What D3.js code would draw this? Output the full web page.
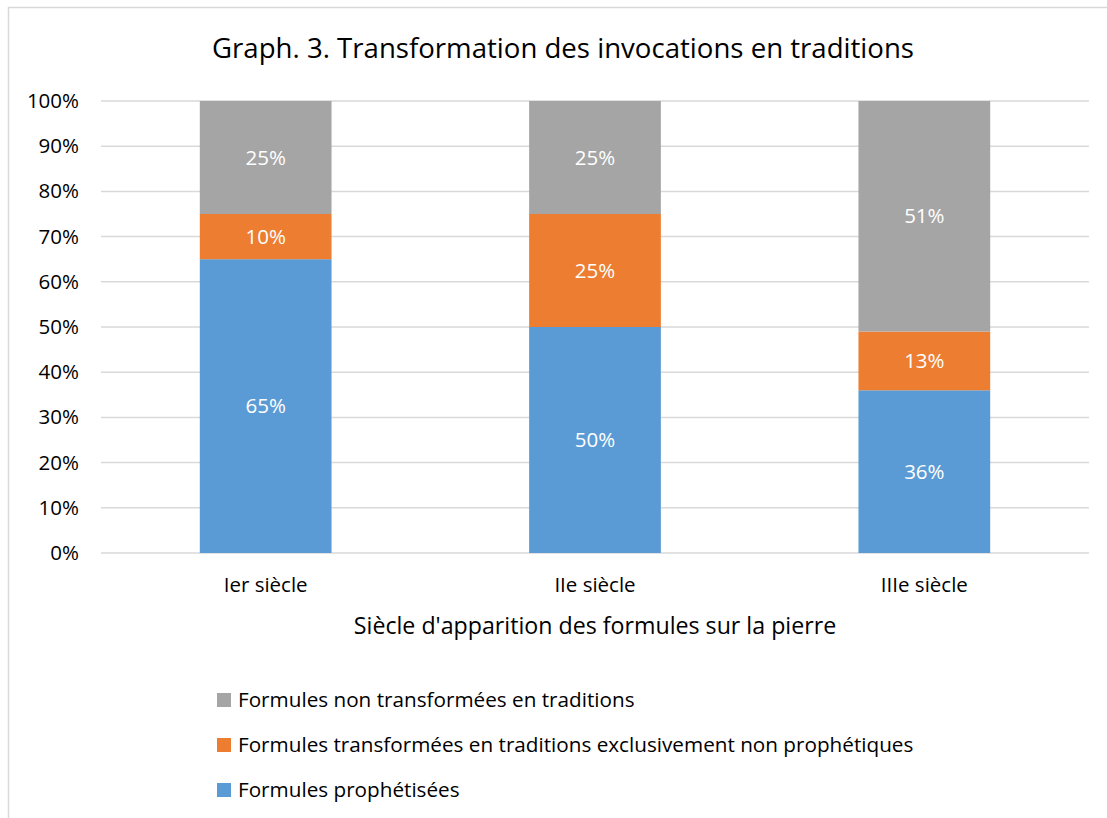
<!DOCTYPE html>
<html><head><meta charset="utf-8">
<script src="https://cdn.jsdelivr.net/npm/d3@7"></script>
<style>body{margin:0;background:#fff;} text{font-family:"Open Sans",sans-serif;}</style>
</head><body>
<svg id="c" width="1107" height="818"></svg>
<script>
const categories = ["Ier siècle", "IIe siècle", "IIIe siècle"];
const seriesNames = ["Formules prophétisées", "Formules transformées en traditions exclusivement non prophétiques", "Formules non transformées en traditions"];
const prophetisees = [65, 50, 36];
const nonProphetiques = [10, 25, 13];
const nonTransformees = [25, 25, 51];
const yTicks = [0,10,20,30,40,50,60,70,80,90,100];
const colors = ["#5B9BD5", "#ED7D31", "#A5A5A5"];
const FF = "'Open Sans',sans-serif";

const svg = d3.select("#c");
svg.append("rect").attr("x",8.5).attr("y",7.5).attr("width",1110).attr("height",830)
  .attr("fill","#fff").attr("stroke","#D9D9D9").attr("stroke-width",1.5);

const pL=101, pR=1089, pT=101, pB=553;
const x = d3.scaleBand().domain(categories).range([pL,pR]).paddingInner(0.6).paddingOuter(0.3);
const y = d3.scaleLinear().domain([0,100]).range([pB,pT]);

svg.append("text").attr("x",563).attr("y",58).attr("text-anchor","middle")
  .attr("font-size",27.6).attr("fill","#000").text("Graph. 3. Transformation des invocations en traditions");

const g = svg.append("g");
g.selectAll("line.grid").data(yTicks).join("line").attr("class","grid")
  .attr("x1",pL).attr("x2",pR).attr("y1",d=>y(d)).attr("y2",d=>y(d))
  .attr("stroke","#D9D9D9").attr("stroke-width",1.5);

const yAxis = d3.axisLeft(y).tickValues(yTicks).tickFormat(d=>d+"%").tickSize(0).tickPadding(22);
const ya = svg.append("g").attr("transform",`translate(${pL},0)`).call(yAxis);
ya.select(".domain").remove();
ya.selectAll("text").attr("font-size",20.5).attr("fill","#000").style("font-family",FF);

const xAxis = d3.axisBottom(x).tickSize(0).tickPadding(24);
const xa = svg.append("g").attr("transform",`translate(0,${pB})`).call(xAxis);
xa.select(".domain").remove();
xa.selectAll("text").attr("font-size",20.5).attr("fill","#000").style("font-family",FF);

const data = categories.map((c,i)=>({cat:c, s0:prophetisees[i], s1:nonProphetiques[i], s2:nonTransformees[i]}));
const stack = d3.stack().keys(["s0","s1","s2"]);
const layers = stack(data);
layers.forEach((layer,li)=>{
  const lg = svg.append("g");
  lg.selectAll("rect").data(layer).join("rect")
    .attr("x",d=>x(d.data.cat)).attr("width",x.bandwidth())
    .attr("y",d=>y(d[1])).attr("height",d=>y(d[0])-y(d[1]))
    .attr("fill",colors[li]);
  lg.selectAll("text").data(layer).join("text")
    .attr("x",d=>x(d.data.cat)+x.bandwidth()/2)
    .attr("y",d=>(y(d[0])+y(d[1]))/2).attr("dy","0.35em")
    .attr("text-anchor","middle").attr("font-size",20.5).attr("fill","#fff")
    .text(d=>Math.round(d[1]-d[0])+"%");
});

svg.append("text").attr("x",(pL+pR)/2).attr("y",634).attr("text-anchor","middle")
  .attr("font-size",23.2).attr("fill","#000").text("Siècle d'apparition des formules sur la pierre");

const legendOrder = [2,1,0];
const lgd = svg.append("g");
legendOrder.forEach((si,k)=>{
  const cy = 700 + k*45;
  lgd.append("rect").attr("x",217).attr("y",cy-7).attr("width",14).attr("height",14).attr("fill",colors[si]);
  lgd.append("text").attr("x",238).attr("y",cy).attr("dy","0.35em").attr("font-size",20.7).attr("fill","#000").text(seriesNames[si]);
});
</script>
</body></html>
